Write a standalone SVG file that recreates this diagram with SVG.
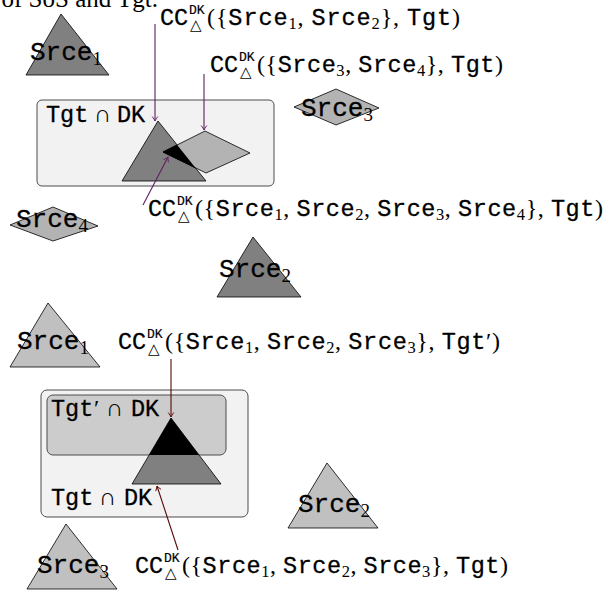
<svg xmlns="http://www.w3.org/2000/svg" width="607" height="593" viewBox="0 0 607 593">
<style>
text{fill:#000}
.tt{font-family:"Liberation Mono","DejaVu Sans Mono",monospace;font-size:23.5px;stroke:#000;stroke-width:0.3}
.rm{font-family:"Liberation Serif","DejaVu Serif",serif;font-size:24px;stroke:none}
.sb{font-family:"Liberation Serif","DejaVu Serif",serif;font-size:16.5px;stroke:none}
.sup{font-family:"Liberation Mono","DejaVu Sans Mono",monospace;font-size:13px;stroke:#000;stroke-width:0.2}
.tri{font-family:"DejaVu Sans",sans-serif;font-size:15px}
.nl{font-family:"Liberation Mono","DejaVu Sans Mono",monospace;font-size:26px;stroke:#000;stroke-width:0.3}
.nsb{font-family:"Liberation Serif","DejaVu Serif",serif;font-size:19px;stroke:none}
.dark{fill:#808080;stroke:#000;stroke-width:0.8}
.light{fill:#c0c0c0;stroke:#000;stroke-width:0.8}
.dia{fill:#b3b3b3;stroke:#000;stroke-width:0.8}
.box{fill:#f2f2f2;stroke:#4d4d4d;stroke-width:1}
.ibox{fill:#cccccc;stroke:#4d4d4d;stroke-width:1}
.ap{fill:none;stroke:#5f1f5f;stroke-width:1.1;marker-end:url(#ahp)}
.am{fill:none;stroke:#5a0808;stroke-width:1.1;marker-end:url(#ahm)}
</style>
<defs>
<marker id="ahp" viewBox="-6 -4 7 8" refX="0" refY="0" markerWidth="7" markerHeight="8" orient="auto" markerUnits="userSpaceOnUse"><path d="M-4.5,-2.8 Q-1.5,-0.6 0,0 Q-1.5,0.6 -4.5,2.8" fill="none" stroke="#5f1f5f" stroke-width="0.9"/></marker>
<marker id="ahm" viewBox="-6 -4 7 8" refX="0" refY="0" markerWidth="7" markerHeight="8" orient="auto" markerUnits="userSpaceOnUse"><path d="M-4.5,-2.8 Q-1.5,-0.6 0,0 Q-1.5,0.6 -4.5,2.8" fill="none" stroke="#5a0808" stroke-width="0.9"/></marker>
<clipPath id="clipT1"><polygon points="158,121 122,181 206,181"/></clipPath>
<clipPath id="clipIn"><rect x="47" y="395" width="179" height="60" rx="6"/></clipPath>
</defs>

<text class="rm" x="158" y="7" text-anchor="end" style="font-size:25px">of SoS and Tgt.</text>

<!-- top section -->
<g id="box-tgt-dk">
<rect class="box" x="37" y="100" width="237" height="86" rx="5"/>
<text class="tt" x="46" y="122">Tgt</text><text class="rm" x="94" y="122">∩</text><text class="tt" x="117" y="122">DK</text>
</g>
<g id="shape-tri-dk">
<polygon class="dark" points="158,121 122,181 206,181"/>
</g>
<g id="shape-dia-dk">
<polygon class="dia" points="205,131 250,153 206,173 163,152"/>
<polygon points="205,131 250,153 206,173 163,152" fill="#000" stroke="#000" stroke-width="0.8" clip-path="url(#clipT1)"/>
</g>

<g id="srce1-top">
<polygon class="dark" points="61,14 26,75 109,75"/>
<text class="nl" x="30" y="60">Srce<tspan class="nsb" dy="5">1</tspan></text>
</g>
<g id="srce3-top">
<polygon class="dia" points="294,107 336,89 379,108 336,125"/>
<text class="nl" x="301" y="116">Srce<tspan class="nsb" dy="5">3</tspan></text>
</g>
<g id="srce4-top">
<polygon class="dia" points="10,225 53,207 98,226 53,241"/>
<text class="nl" x="16" y="227">Srce<tspan class="nsb" dy="5">4</tspan></text>
</g>
<g id="srce2-top">
<polygon class="dark" points="253,237 217,297 301,297"/>
<text class="nl" x="219" y="277">Srce<tspan class="nsb" dy="5">2</tspan></text>
</g>

<g id="label-cc12">
<g transform="translate(160,25)">
<text class="tt" x="0" y="0">CC</text><text class="sup" x="29" y="-11.5">DK</text><text class="tri" x="30" y="5">△</text>
<text class="rm" x="47" y="0" textLength="253" lengthAdjust="spacing">({<tspan class="tt">Srce</tspan><tspan class="sb" dy="4">1</tspan><tspan dy="-4">, </tspan><tspan class="tt">Srce</tspan><tspan class="sb" dy="4">2</tspan><tspan dy="-4">}, </tspan><tspan class="tt">Tgt</tspan>)</text>
</g>
</g>
<g id="label-cc34">
<g transform="translate(210,72)">
<text class="tt" x="0" y="0">CC</text><text class="sup" x="29" y="-11.5">DK</text><text class="tri" x="30" y="5">△</text>
<text class="rm" x="47" y="0" textLength="246" lengthAdjust="spacing">({<tspan class="tt">Srce</tspan><tspan class="sb" dy="4">3</tspan><tspan dy="-4">, </tspan><tspan class="tt">Srce</tspan><tspan class="sb" dy="4">4</tspan><tspan dy="-4">}, </tspan><tspan class="tt">Tgt</tspan>)</text>
</g>
</g>
<g id="label-cc1234">
<g transform="translate(148,216)">
<text class="tt" x="0" y="0">CC</text><text class="sup" x="29" y="-11.5">DK</text><text class="tri" x="30" y="5">△</text>
<text class="rm" x="47" y="0" textLength="408" lengthAdjust="spacing">({<tspan class="tt">Srce</tspan><tspan class="sb" dy="4">1</tspan><tspan dy="-4">, </tspan><tspan class="tt">Srce</tspan><tspan class="sb" dy="4">2</tspan><tspan dy="-4">, </tspan><tspan class="tt">Srce</tspan><tspan class="sb" dy="4">3</tspan><tspan dy="-4">, </tspan><tspan class="tt">Srce</tspan><tspan class="sb" dy="4">4</tspan><tspan dy="-4">}, </tspan><tspan class="tt">Tgt</tspan>)</text>
</g>
</g>

<!-- bottom section -->
<g id="box-tgt-dk-2">
<rect class="box" x="41" y="390" width="207" height="127" rx="6"/>
<text class="tt" x="51" y="505">Tgt</text><text class="rm" x="99" y="505">∩</text><text class="tt" x="124" y="505">DK</text>
</g>
<g id="box-tgtp-dk">
<rect class="ibox" x="47" y="395" width="179" height="60" rx="6"/>
<text class="tt" x="51" y="416">Tgt</text><text class="rm" x="94" y="416">′</text><text class="rm" x="106" y="416">∩</text><text class="tt" x="131" y="416">DK</text>
</g>
<g id="shape-tri-2">
<polygon class="dark" points="171,418 132,484 221,484"/>
<polygon points="171,418 132,484 221,484" fill="#000" clip-path="url(#clipIn)"/>
</g>

<g id="srce1-bot">
<polygon class="light" points="48,303 10,367 100,367"/>
<text class="nl" x="17" y="349">Srce<tspan class="nsb" dy="5">1</tspan></text>
</g>
<g id="srce2-bot">
<polygon class="light" points="327,463 288,528 378,528"/>
<text class="nl" x="298" y="512">Srce<tspan class="nsb" dy="5">2</tspan></text>
</g>
<g id="srce3-bot">
<polygon class="light" points="66,524 27,589 117,589"/>
<text class="nl" x="37" y="573">Srce<tspan class="nsb" dy="5">3</tspan></text>
</g>

<g id="label-cc123p">
<g transform="translate(118,349)">
<text class="tt" x="0" y="0">CC</text><text class="sup" x="29" y="-11.5">DK</text><text class="tri" x="30" y="5">△</text>
<text class="rm" x="47" y="0" textLength="335" lengthAdjust="spacing">({<tspan class="tt">Srce</tspan><tspan class="sb" dy="4">1</tspan><tspan dy="-4">, </tspan><tspan class="tt">Srce</tspan><tspan class="sb" dy="4">2</tspan><tspan dy="-4">, </tspan><tspan class="tt">Srce</tspan><tspan class="sb" dy="4">3</tspan><tspan dy="-4">}, </tspan><tspan class="tt">Tgt</tspan>′)</text>
</g>
</g>
<g id="label-cc123">
<g transform="translate(135,573)">
<text class="tt" x="0" y="0">CC</text><text class="sup" x="29" y="-11.5">DK</text><text class="tri" x="30" y="5">△</text>
<text class="rm" x="47" y="0" textLength="326" lengthAdjust="spacing">({<tspan class="tt">Srce</tspan><tspan class="sb" dy="4">1</tspan><tspan dy="-4">, </tspan><tspan class="tt">Srce</tspan><tspan class="sb" dy="4">2</tspan><tspan dy="-4">, </tspan><tspan class="tt">Srce</tspan><tspan class="sb" dy="4">3</tspan><tspan dy="-4">}, </tspan><tspan class="tt">Tgt</tspan>)</text>
</g>
</g>

<g id="connectors">
<line class="ap" x1="155" y1="24" x2="155" y2="121"/>
<line class="ap" x1="204" y1="74" x2="204" y2="130"/>
<line class="ap" x1="143" y1="205" x2="168" y2="157"/>
<line class="am" x1="171" y1="359" x2="171" y2="417"/>
<line class="am" x1="178" y1="550" x2="157" y2="486"/>
</g>
</svg>
